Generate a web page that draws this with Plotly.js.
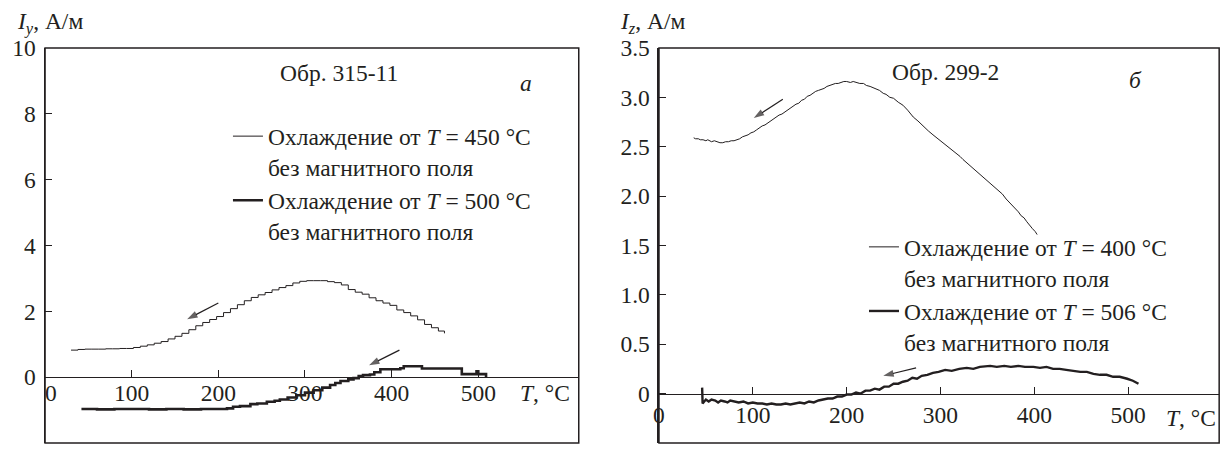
<!DOCTYPE html>
<html><head><meta charset="utf-8">
<script src="https://cdn.plot.ly/plotly-3.0.1.min.js"></script>
<style>html,body{margin:0;padding:0;background:#fff}#chart{width:1221px;height:452px}</style>
</head><body><div id="chart"></div>
<script>
// ---------- Panel a (Обр. 315-11) ----------
const tempA450 = [30,38,46,54,62,70,78,86,94,102,110,118,126,134,142,150,158,166,174,182,190,198,206,214,222,230,238,246,254,262,270,278,286,294,302,310,318,326,334,342,350,358,366,374,382,390,398,406,414,422,430,438,446,454,461];
const iyA450   = [0.82,0.84,0.85,0.85,0.85,0.86,0.86,0.87,0.87,0.90,0.94,0.98,1.03,1.08,1.16,1.24,1.33,1.44,1.56,1.66,1.75,1.84,1.96,2.08,2.20,2.32,2.42,2.50,2.57,2.65,2.72,2.78,2.86,2.91,2.93,2.93,2.93,2.90,2.87,2.80,2.66,2.58,2.52,2.41,2.32,2.25,2.18,2.04,1.96,1.86,1.74,1.60,1.50,1.40,1.33];
const tempA500 = [42,60,80,100,120,140,160,180,200,210,217,225,237,245,256,265,271,280,290,300,310,320,329,335,341,350,356,362,367,375,380,387,400,410,414,429,435,479,481,497,498,500,508,509];
const iyA500   = [-0.97,-0.98,-0.97,-0.97,-0.98,-0.97,-0.98,-0.97,-0.97,-0.95,-0.90,-0.88,-0.82,-0.80,-0.75,-0.72,-0.68,-0.62,-0.55,-0.47,-0.40,-0.32,-0.24,-0.18,-0.12,-0.07,-0.03,0.03,0.06,0.08,0.15,0.24,0.24,0.27,0.33,0.33,0.26,0.26,0.09,0.09,0.18,0.09,0.09,0.0];
const xTicksA = [0,100,200,300,400,500];
const xTickTextA = ['\u00a0\u00a00','100','200','300','400','500'];
const yTicksA = [-2,0,2,4,6,8,10];
const yTickTextA = ['\u22122','0','2','4','6','8','10'];
const xRangeA = [0,616];
const yRangeA = [-2,10];
// arrows: tail -> head
const arrowA1T = [200,164], arrowA1I = [2.25,1.76];
const arrowA2T = [409,374], arrowA2I = [0.82,0.36];

// ---------- Panel б (Обр. 299-2) ----------
const tempB400 = [37,39,42,44,47,50,52,56,59,62,65,68,71,74,77,80,83,86,89,92,95,98,101,104,107,110,113,116,119,122,125,128,131,134,137,140,143,146,149,152,155,158,161,164,167,170,173,176,179,182,185,188,191,194,197,200,204,207,210,214,218,221,225,228,232,235,239,242,246,250,255,260,265,271,276,282,287,292,296,300,305,310,314,318,321,324,330,335,338,342,346,350,355,360,363,366,370,374,377,380,383,386,389,392,395,398,401,403];
const izB400   = [2.59,2.58,2.58,2.57,2.57,2.56,2.57,2.55,2.56,2.55,2.54,2.54,2.55,2.55,2.56,2.56,2.57,2.58,2.60,2.61,2.62,2.64,2.65,2.67,2.69,2.71,2.72,2.74,2.76,2.78,2.80,2.82,2.83,2.85,2.87,2.89,2.91,2.93,2.94,2.97,2.98,3.01,3.02,3.04,3.06,3.07,3.08,3.09,3.11,3.12,3.13,3.14,3.14,3.15,3.16,3.16,3.15,3.16,3.15,3.14,3.14,3.12,3.11,3.10,3.08,3.07,3.04,3.03,3.00,2.99,2.95,2.92,2.87,2.80,2.76,2.70,2.66,2.62,2.59,2.56,2.52,2.48,2.45,2.42,2.40,2.37,2.32,2.28,2.26,2.22,2.19,2.16,2.11,2.07,2.05,2.02,1.97,1.93,1.91,1.87,1.84,1.80,1.78,1.74,1.70,1.67,1.64,1.61];
const tempB506 = [46,46.5,50,53,56,60,63,66,70,73,76,80,85,90,95,100,105,110,115,120,125,130,135,140,145,150,155,160,165,170,175,180,185,190,195,200,205,210,215,220,225,230,235,240,245,250,255,260,265,270,275,280,286,292,298,305,312,320,328,335,342,353,360,368,375,383,390,399,406,413,420,427,434,441,449,456,463,470,477,484,491,499,505,511];
const izB506   = [0.06,-0.10,-0.06,-0.08,-0.06,-0.07,-0.09,-0.07,-0.08,-0.09,-0.07,-0.08,-0.09,-0.08,-0.10,-0.09,-0.10,-0.10,-0.11,-0.10,-0.11,-0.11,-0.10,-0.11,-0.10,-0.09,-0.10,-0.08,-0.09,-0.07,-0.06,-0.05,-0.05,-0.03,-0.03,-0.01,-0.01,0.01,0.00,0.03,0.03,0.05,0.04,0.07,0.07,0.10,0.10,0.12,0.13,0.16,0.15,0.18,0.19,0.21,0.22,0.24,0.23,0.25,0.26,0.25,0.27,0.28,0.27,0.28,0.27,0.28,0.27,0.27,0.26,0.27,0.25,0.25,0.24,0.23,0.22,0.22,0.20,0.19,0.19,0.17,0.17,0.15,0.13,0.10];
const xTicksB = [0,100,200,300,400,500];
const xTickTextB = ['0','100','200','300','400','500'];
const yTicksB = [-0.5,0,0.5,1.0,1.5,2.0,2.5,3.0,3.5];
const yTickTextB = ['\u22120.5','0','0.5','1.0','1.5','2.0','2.5','3.0','3.5'];
const xRangeB = [0,597];
const yRangeB = [-0.5,3.5];
const arrowB1T = [132,101], arrowB1I = [2.98,2.79];
const arrowB2T = [274,239], arrowB2I = [0.26,0.18];

const legendA = ['Охлаждение от <i>T</i> = 450 °C<br>без магнитного поля','Охлаждение от <i>T</i> = 500 °C<br>без магнитного поля'];
const legendB = ['Охлаждение от <i>T</i> = 400 °C<br>без магнитного поля','Охлаждение от <i>T</i> = 506 °C<br>без магнитного поля'];

// ---------- styling ----------
const INK = '#231f20';
const FONT = '"Liberation Serif", "Times New Roman", serif';
const FS = 23.5;
const yDom = [0.02, 0.894];
const xDomA = [0.0369, 0.474];
const xDomB = [0.5397, 0.9985];
function zeroPos(r){ return yDom[0] + (yDom[1]-yDom[0]) * (0 - r[0])/(r[1]-r[0]); }

const arrowTrace = (xs, ys, xa, ya) => ({x: xs, y: ys, xaxis: xa, yaxis: ya, mode:'lines+markers', showlegend:false,
  line:{color:INK, width:1.2}, marker:{symbol:['line-ew','arrow'], size:[0,11], angleref:'previous', color:INK, line:{width:0}}, hoverinfo:'skip'});

const traces = [
  {x: tempA450, y: iyA450, xaxis:'x', yaxis:'y', mode:'lines', line:{color:INK, width:1, shape:'hv'}, name: legendA[0], legend:'legend'},
  {x: tempA500, y: iyA500, xaxis:'x', yaxis:'y', mode:'lines', line:{color:INK, width:2.6, shape:'hv'}, name: legendA[1], legend:'legend'},
  {x: tempB400, y: izB400, xaxis:'x2', yaxis:'y2', mode:'lines', line:{color:INK, width:1}, name: legendB[0], legend:'legend2'},
  {x: tempB506, y: izB506, xaxis:'x2', yaxis:'y2', mode:'lines', line:{color:INK, width:2.4}, name: legendB[1], legend:'legend2'},
  arrowTrace(arrowA1T, arrowA1I, 'x', 'y'),
  arrowTrace(arrowA2T, arrowA2I, 'x', 'y'),
  arrowTrace(arrowB1T, arrowB1I, 'x2', 'y2'),
  arrowTrace(arrowB2T, arrowB2I, 'x2', 'y2')
];

function xaxisDef(dom, range, yr, tv, tt, standoff){
  return {domain: dom, range: range, anchor:'free', position: zeroPos(yr), tickmode:'array', tickvals: tv, ticktext: tt,
    ticks:'inside', ticklen:7, tickwidth:1, tickcolor:INK, showline:true, linecolor:INK, linewidth:1.2,
    showgrid:false, zeroline:false, ticklabelstandoff: standoff, tickfont:{family:FONT, size:FS, color:INK}, fixedrange:true};
}
function yaxisDef(anchor, range, tv, tt){
  return {domain: yDom, range: range, anchor: anchor, tickmode:'array', tickvals: tv, ticktext: tt,
    ticks:'inside', ticklen:7, tickwidth:1, tickcolor:INK, showline:true, linecolor:INK, linewidth:1.5,
    showgrid:false, zeroline:false, ticklabelstandoff: 3, tickfont:{family:FONT, size:FS, color:INK}, fixedrange:true};
}

const txt = (text, x, y, xr, yr) => ({text, x, y, xref:xr, yref:yr, showarrow:false, xanchor:'center', yanchor:'middle', font:{family:FONT, size:FS, color:INK}});
const annotations = [
  txt('Обр. 315-11', 0.551, 0.937, 'x domain', 'y domain'),
  txt('<i>a</i>', 0.901, 0.911, 'x domain', 'y domain'),
  txt('<i>T</i>, °C', 0.937, zeroPos(yRangeA)-0.036, 'x domain', 'paper'),
  txt('Обр. 299-2', 0.512, 0.939, 'x2 domain', 'y2 domain'),
  txt('<i>б</i>', 0.85, 0.919, 'x2 domain', 'y2 domain'),
  txt('<i>T</i>, °C', 0.95, zeroPos(yRangeB)-0.055, 'x2 domain', 'paper'),
  txt('<i>I</i><sub><i>y</i></sub>, А/м', 0.041, 0.95, 'paper', 'paper'),
  txt('<i>I</i><sub><i>z</i></sub>, А/м', 0.534, 0.95, 'paper', 'paper')
];

const frame = (xr, yr) => ({type:'rect', xref:xr, yref:yr, x0:0, x1:1, y0:0, y1:1, line:{color:INK, width:1.5}, layer:'above'});

const legendStyle = (x, y) => ({x, y, xanchor:'left', yanchor:'top', xref:'paper', yref:'paper', bgcolor:'rgba(0,0,0,0)',
  font:{family:FONT, size:FS, color:INK}, valign:'top', tracegroupgap:0, itemclick:false, itemdoubleclick:false});

const layout = {
  width:1221, height:452, margin:{l:0, r:0, t:0, b:0}, paper_bgcolor:'#fff', plot_bgcolor:'#fff',
  showlegend:true,
  xaxis: xaxisDef(xDomA, xRangeA, yRangeA, xTicksA, xTickTextA, -6),
  yaxis: yaxisDef('x', yRangeA, yTicksA, yTickTextA),
  xaxis2: xaxisDef(xDomB, xRangeB, yRangeB, xTicksB, xTickTextB, 0),
  yaxis2: yaxisDef('x2', yRangeB, yTicksB, yTickTextB),
  legend: legendStyle(0.1867, 0.747),
  legend2: legendStyle(0.7076, 0.502),
  annotations: annotations,
  shapes: [frame('x domain','y domain'), frame('x2 domain','y2 domain')]
};
Plotly.newPlot('chart', traces, layout, {displayModeBar:false, staticPlot:true});
</script>
</body></html>
